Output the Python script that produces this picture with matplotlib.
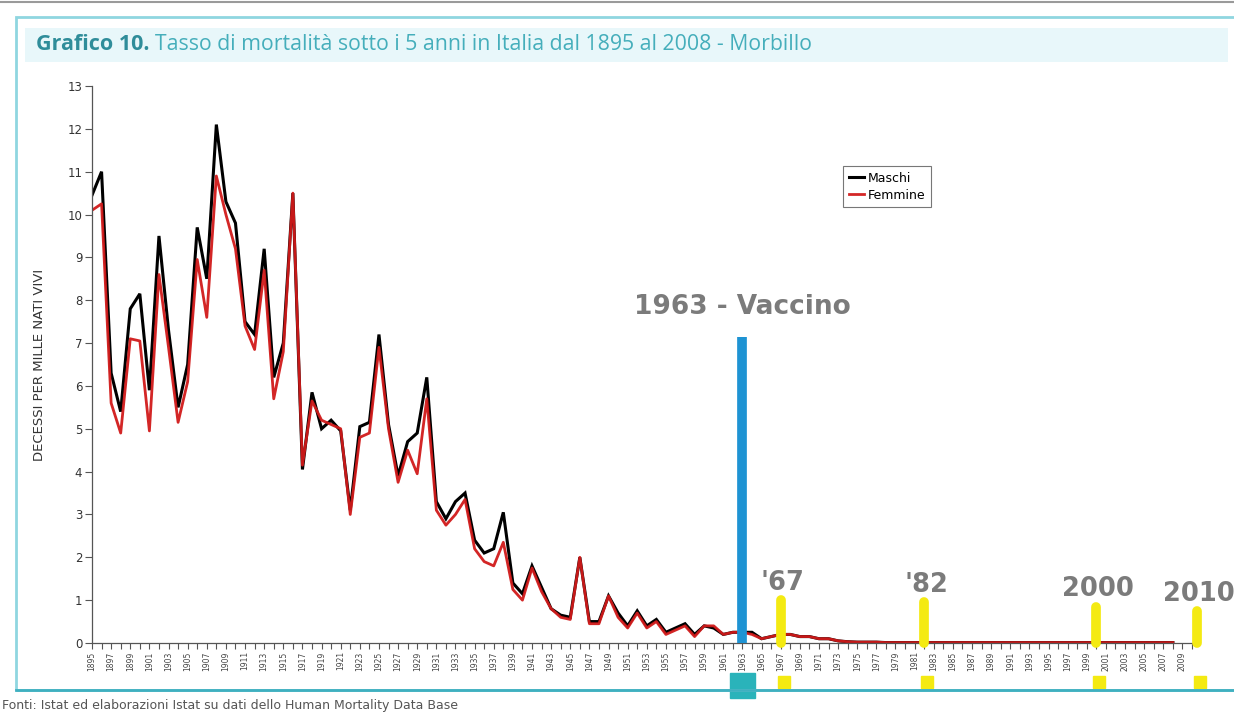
import numpy as np
import matplotlib
matplotlib.use("Agg")
import matplotlib.pyplot as plt
import matplotlib.transforms as mtransforms
from matplotlib.patches import Rectangle

# -----------------------------
# dati
# -----------------------------
years = np.arange(1895, 2009)

maschi = [
    10.45, 11.0, 6.3, 5.4, 7.8, 8.15, 5.9, 9.5, 7.3, 5.5,      # 1895-1904
    6.5, 9.7, 8.5, 12.1, 10.3, 9.8, 7.5, 7.2, 9.2, 6.2,        # 1905-1914
    7.0, 10.5, 4.05, 5.85, 5.0, 5.2, 4.95, 3.1, 5.05, 5.15,    # 1915-1924
    7.2, 5.1, 3.9, 4.7, 4.9, 6.2, 3.3, 2.9, 3.3, 3.5,          # 1925-1934
    2.4, 2.1, 2.2, 3.05, 1.4, 1.15, 1.8, 1.3, 0.8, 0.65,       # 1935-1944
    0.6, 2.0, 0.5, 0.5, 1.1, 0.7, 0.4, 0.75, 0.4, 0.55,        # 1945-1954
    0.25, 0.35, 0.45, 0.2, 0.4, 0.35, 0.2, 0.25, 0.25, 0.25,   # 1955-1964
    0.1, 0.15, 0.2, 0.2, 0.15, 0.15, 0.1, 0.1, 0.05, 0.03,     # 1965-1974
    0.02, 0.02, 0.02, 0.01, 0.01, 0.01, 0.01, 0.01, 0.01, 0.01,  # 1975-1984
    0.01, 0.01, 0.01, 0.01, 0.01, 0.01, 0.01, 0.01, 0.01, 0.01,  # 1985-1994
    0.01, 0.01, 0.01, 0.01, 0.01, 0.01, 0.01, 0.01, 0.01, 0.01,  # 1995-2004
    0.01, 0.01, 0.01, 0.01,                                      # 2005-2008
]

femmine = [
    10.1, 10.25, 5.6, 4.9, 7.1, 7.05, 4.95, 8.6, 6.9, 5.15,
    6.1, 8.95, 7.6, 10.9, 10.0, 9.2, 7.4, 6.85, 8.7, 5.7,
    6.8, 10.5, 4.15, 5.65, 5.2, 5.1, 5.0, 3.0, 4.8, 4.9,
    6.9, 5.0, 3.75, 4.5, 3.95, 5.7, 3.1, 2.75, 3.0, 3.35,
    2.2, 1.9, 1.8, 2.35, 1.25, 1.0, 1.75, 1.2, 0.8, 0.6,
    0.55, 2.0, 0.45, 0.45, 1.1, 0.6, 0.35, 0.7, 0.35, 0.5,
    0.2, 0.3, 0.4, 0.15, 0.4, 0.4, 0.2, 0.25, 0.25, 0.2,
    0.1, 0.15, 0.2, 0.2, 0.15, 0.15, 0.1, 0.1, 0.05, 0.03,
    0.02, 0.02, 0.02, 0.01, 0.01, 0.01, 0.01, 0.01, 0.01, 0.01,
    0.01, 0.01, 0.01, 0.01, 0.01, 0.01, 0.01, 0.01, 0.01, 0.01,
    0.01, 0.01, 0.01, 0.01, 0.01, 0.01, 0.01, 0.01, 0.01, 0.01,
    0.01, 0.01, 0.01, 0.01,
]

# eventi evidenziati
vacc_year = 1963
vacc_height = 7.15
vacc_label = "1963 - Vaccino"

event_years = [1967, 1982, 2000, 2010.5]
event_heights = [1.0, 0.95, 0.85, 0.75]
event_labels = ["'67", "'82", "2000", "2010"]

tick_years = np.arange(1895, 2010, 2)

# -----------------------------
# figura
# -----------------------------
fig = plt.figure(figsize=(12.34, 7.15), dpi=100)
W, H = 1234, 715

def fx(px):
    return px / W

def fy(py):
    return 1 - py / H

# cornice esterna e fascia del titolo
fig.add_artist(plt.Line2D([0, 1], [fy(2), fy(2)], color="#9a9a9a", lw=1.5))
fig.add_artist(Rectangle((fx(16), fy(690)), fx(1240 - 16), fy(17) - fy(690),
                         fill=False, edgecolor="#8fd6e0", lw=2))
fig.add_artist(plt.Line2D([fx(16), 1], [fy(690), fy(690)], color="#3fb0c0", lw=2))
fig.add_artist(Rectangle((fx(25), fy(62)), fx(1228 - 25), fy(28) - fy(62),
                         facecolor="#e8f7fa", edgecolor="none"))

fig.text(fx(36), fy(45), "Grafico 10.", color="#2f8d9a", fontsize=15.5,
         fontweight="bold", family="Open Sans", va="center", ha="left")
fig.text(fx(155), fy(45),
         "Tasso di mortalità sotto i 5 anni in Italia dal 1895 al 2008 - Morbillo",
         color="#45aebb", fontsize=15.3, family="Open Sans", va="center", ha="left")

ax = fig.add_axes([fx(92), fy(643), fx(1192 - 92), fy(86) - fy(643)])

ax.plot(years, maschi, color="black", lw=2.2, label="Maschi", solid_joinstyle="miter")
ax.plot(years, femmine, color="#d11a1a", lw=2.0, label="Femmine", alpha=0.95)

ax.set_xlim(1895, 2010)
ax.set_ylim(0, 13)
ax.set_yticks(range(0, 14))
all_years = np.arange(1895, 2011, 1)
ax.set_xticks(all_years)
ax.set_xticklabels([str(y) if y in tick_years else "" for y in all_years],
                   rotation=90, fontsize=5.5, color="#444444")
ax.tick_params(axis="x", length=4, width=0.8, color="#555555", pad=2)
ax.tick_params(axis="y", length=5, width=0.8, color="#555555", labelsize=8.5,
               labelcolor="#333333", pad=2)

for side in ["top", "right"]:
    ax.spines[side].set_visible(False)
for side in ["left", "bottom"]:
    ax.spines[side].set_color("#555555")
    ax.spines[side].set_linewidth(0.9)

ax.set_ylabel("DECESSI PER MILLE NATI VIVI", fontsize=9.5, color="#333333", labelpad=15)

leg = ax.legend(loc="upper left", bbox_to_anchor=(0.683, 0.856), fontsize=9,
                handlelength=1.2, handletextpad=0.3, borderpad=0.45,
                labelspacing=0.3, fancybox=False, framealpha=1, borderaxespad=0)
leg.get_frame().set_edgecolor("#777777")
leg.get_frame().set_linewidth(0.8)

# barra del vaccino
ax.plot([vacc_year, vacc_year], [0, vacc_height], color="#1e93d3", lw=7,
        solid_capstyle="butt", clip_on=False, zorder=5)
ax.text(vacc_year, vacc_height + 0.4, vacc_label, ha="center", va="bottom",
        fontsize=19, fontweight="bold", color="#7b7b7b", family="DejaVu Sans")

# barre gialle
for yr, h, lab in zip(event_years, event_heights, event_labels):
    ax.plot([yr, yr], [0, h], color="#f4ea12", lw=7, solid_capstyle="round",
            clip_on=False, zorder=5)
    ax.text(yr + 0.2, h + 0.1, lab, ha="center", va="bottom", fontsize=18.5,
            fontweight="bold", color="#7b7b7b", family="DejaVu Sans", clip_on=False)

# marcatori sotto l'asse
trans = mtransforms.blended_transform_factory(ax.transData, fig.transFigure)
ax.plot([vacc_year], [fy(685)], marker="s", markersize=18, color="#2ab3ba",
        transform=trans, clip_on=False, linestyle="none")
ax.plot([y + 0.3 for y in event_years], [fy(682)] * len(event_years), marker="s",
        markersize=8, color="#f4ea12", transform=trans, clip_on=False, linestyle="none")

fig.text(fx(2), fy(706),
         "Fonti: Istat ed elaborazioni Istat su dati dello Human Mortality Data Base",
         fontsize=9, color="#555555", va="center", ha="left")

fig.savefig("out.png", dpi=100)
